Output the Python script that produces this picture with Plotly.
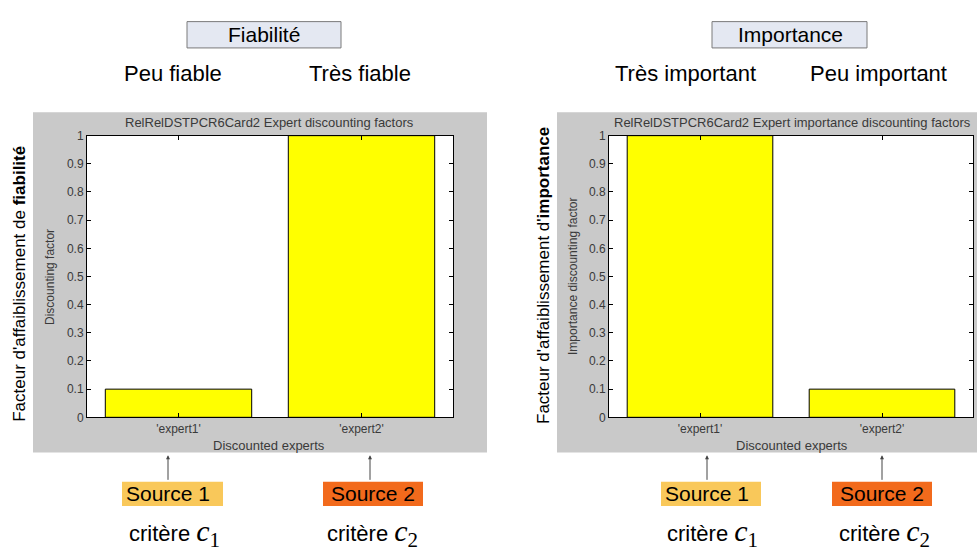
import plotly.graph_objects as go

W, H = 977, 552

# data
experts = ["'expert1'", "'expert2'"]
fiabilite = [0.1, 1.0]
importance = [1.0, 0.1]
y_ticks = [0, 0.1, 0.2, 0.3, 0.4, 0.5, 0.6, 0.7, 0.8, 0.9, 1]
y_tick_labels = ["0", "0.1", "0.2", "0.3", "0.4", "0.5", "0.6", "0.7", "0.8", "0.9", "1"]

FONT = "Arial, Liberation Sans, sans-serif"


def px_x(x):
    return x / W


def px_y(y):
    return 1 - y / H


fig = go.Figure()

fig.add_trace(go.Bar(x=experts, y=fiabilite, xaxis="x", yaxis="y",
                     marker=dict(color="#ffff00", line=dict(color="black", width=1)),
                     showlegend=False))
fig.add_trace(go.Bar(x=experts, y=importance, xaxis="x2", yaxis="y2",
                     marker=dict(color="#ffff00", line=dict(color="black", width=1)),
                     showlegend=False))

axis_common = dict(showline=True, linecolor="black", linewidth=1, mirror="ticks",
                   ticks="inside", ticklen=4, tickcolor="black", showgrid=False,
                   zeroline=False, tickfont=dict(family=FONT, size=12, color="#3a3a3a"))

# plot areas in pixels (left, right, top, bottom)
left_area = (87, 453, 132, 421)
right_area = (609, 973, 132, 421)

fig.update_layout(
    width=W, height=H,
    margin=dict(l=0, r=0, t=0, b=0),
    paper_bgcolor="white", plot_bgcolor="rgba(0,0,0,0)",
    bargap=0.2,
    font=dict(family=FONT),
    xaxis=dict(domain=[px_x(left_area[0]), px_x(left_area[1])], anchor="y",
               range=[-0.5, 1.5], **axis_common),
    yaxis=dict(domain=[px_y(left_area[3]), px_y(left_area[2])], anchor="x", range=[0, 1],
               tickvals=y_ticks, ticktext=y_tick_labels, **axis_common),
    xaxis2=dict(domain=[px_x(right_area[0]), px_x(right_area[1])], anchor="y2",
                range=[-0.5, 1.5], **axis_common),
    yaxis2=dict(domain=[px_y(right_area[3]), px_y(right_area[2])], anchor="x2", range=[0, 1],
                tickvals=y_ticks, ticktext=y_tick_labels, **axis_common),
)

shapes = []
# gray matlab figure backgrounds
for x0, x1 in [(33, 487), (557, 977)]:
    shapes.append(dict(type="rect", xref="paper", yref="paper", layer="below",
                       x0=px_x(x0), x1=px_x(x1), y0=px_y(457), y1=px_y(108),
                       fillcolor="#c9c9c9", line=dict(width=0)))
# white axes backgrounds
for l, r, t, b in [left_area, right_area]:
    shapes.append(dict(type="rect", xref="paper", yref="paper", layer="below",
                       x0=px_x(l), x1=px_x(r), y0=px_y(b), y1=px_y(t),
                       fillcolor="white", line=dict(width=0)))
# header boxes
for x0, x1 in [(187, 341), (712, 867)]:
    shapes.append(dict(type="rect", xref="paper", yref="paper",
                       x0=px_x(x0), x1=px_x(x1), y0=px_y(42), y1=px_y(15),
                       fillcolor="#e4e8f2", line=dict(color="#7a7a7a", width=1)))
# source boxes
src_boxes = [(122, 223, "#f9c85a"), (323, 423, "#f26a1c"),
             (661, 761, "#f9c85a"), (832, 932, "#f26a1c")]
for x0, x1, c in src_boxes:
    shapes.append(dict(type="rect", xref="paper", yref="paper",
                       x0=px_x(x0), x1=px_x(x1), y0=px_y(512), y1=px_y(487),
                       fillcolor=c, line=dict(width=0)))
fig.update_layout(shapes=shapes)

ann = []


def text(x, y, s, size, color="black", angle=0, family=FONT):
    ann.append(dict(x=px_x(x), y=px_y(y), xref="paper", yref="paper", text=s,
                    showarrow=False, textangle=angle, xanchor="center", yanchor="middle",
                    font=dict(family=family, size=size, color=color)))


# headers
text(264, 28, "Fiabilité", 21)
text(790, 28, "Importance", 21)
text(173, 68, "Peu fiable", 22)
text(360, 68, "Très fiable", 22)
text(685, 68, "Très important", 22)
text(878, 68, "Peu important", 22)

# matlab titles and labels
text(269, 118, "RelRelDSTPCR6Card2 Expert discounting factors", 13, "#3a3a3a")
text(792, 118, "RelRelDSTPCR6Card2 Expert importance discounting factors", 13, "#3a3a3a")
text(269, 450, "Discounted experts", 13, "#3a3a3a")
text(792, 450, "Discounted experts", 13, "#3a3a3a")
text(50, 277, "Discounting factor", 12, "#3a3a3a", -90)
text(573, 277, "Importance discounting factor", 12, "#3a3a3a", -90)
text(20, 284, "Facteur d'affaiblissement de <b>fiabilité</b>", 17, angle=-90)
text(543, 276, "Facteur d'affaiblissement d'<b>importance</b>", 17, angle=-90)

# sources
for x, s in [(168, "Source 1"), (373, "Source 2"), (707, "Source 1"), (882, "Source 2")]:
    text(x, 499, s, 21)

# criteria
crit = ("critère <span style='font-family:Liberation Serif, serif;font-size:30px'>"
        "<i>c</i><sub>%d</sub></span>")
for x, k in [(174, 1), (372, 2), (712, 1), (884, 2)]:
    text(x, 540, crit % k, 22)

# arrows
for x in [168, 370, 707, 882]:
    ann.append(dict(x=px_x(x), y=px_y(460), xref="paper", yref="paper", text="",
                    showarrow=True, ax=0, ay=26, arrowhead=2, arrowsize=0.8,
                    arrowwidth=1, arrowcolor="#444"))

fig.update_layout(annotations=ann)

fig.write_html("out.html", config={"displayModeBar": False},
               post_script="document.body.style.margin='0px';")
